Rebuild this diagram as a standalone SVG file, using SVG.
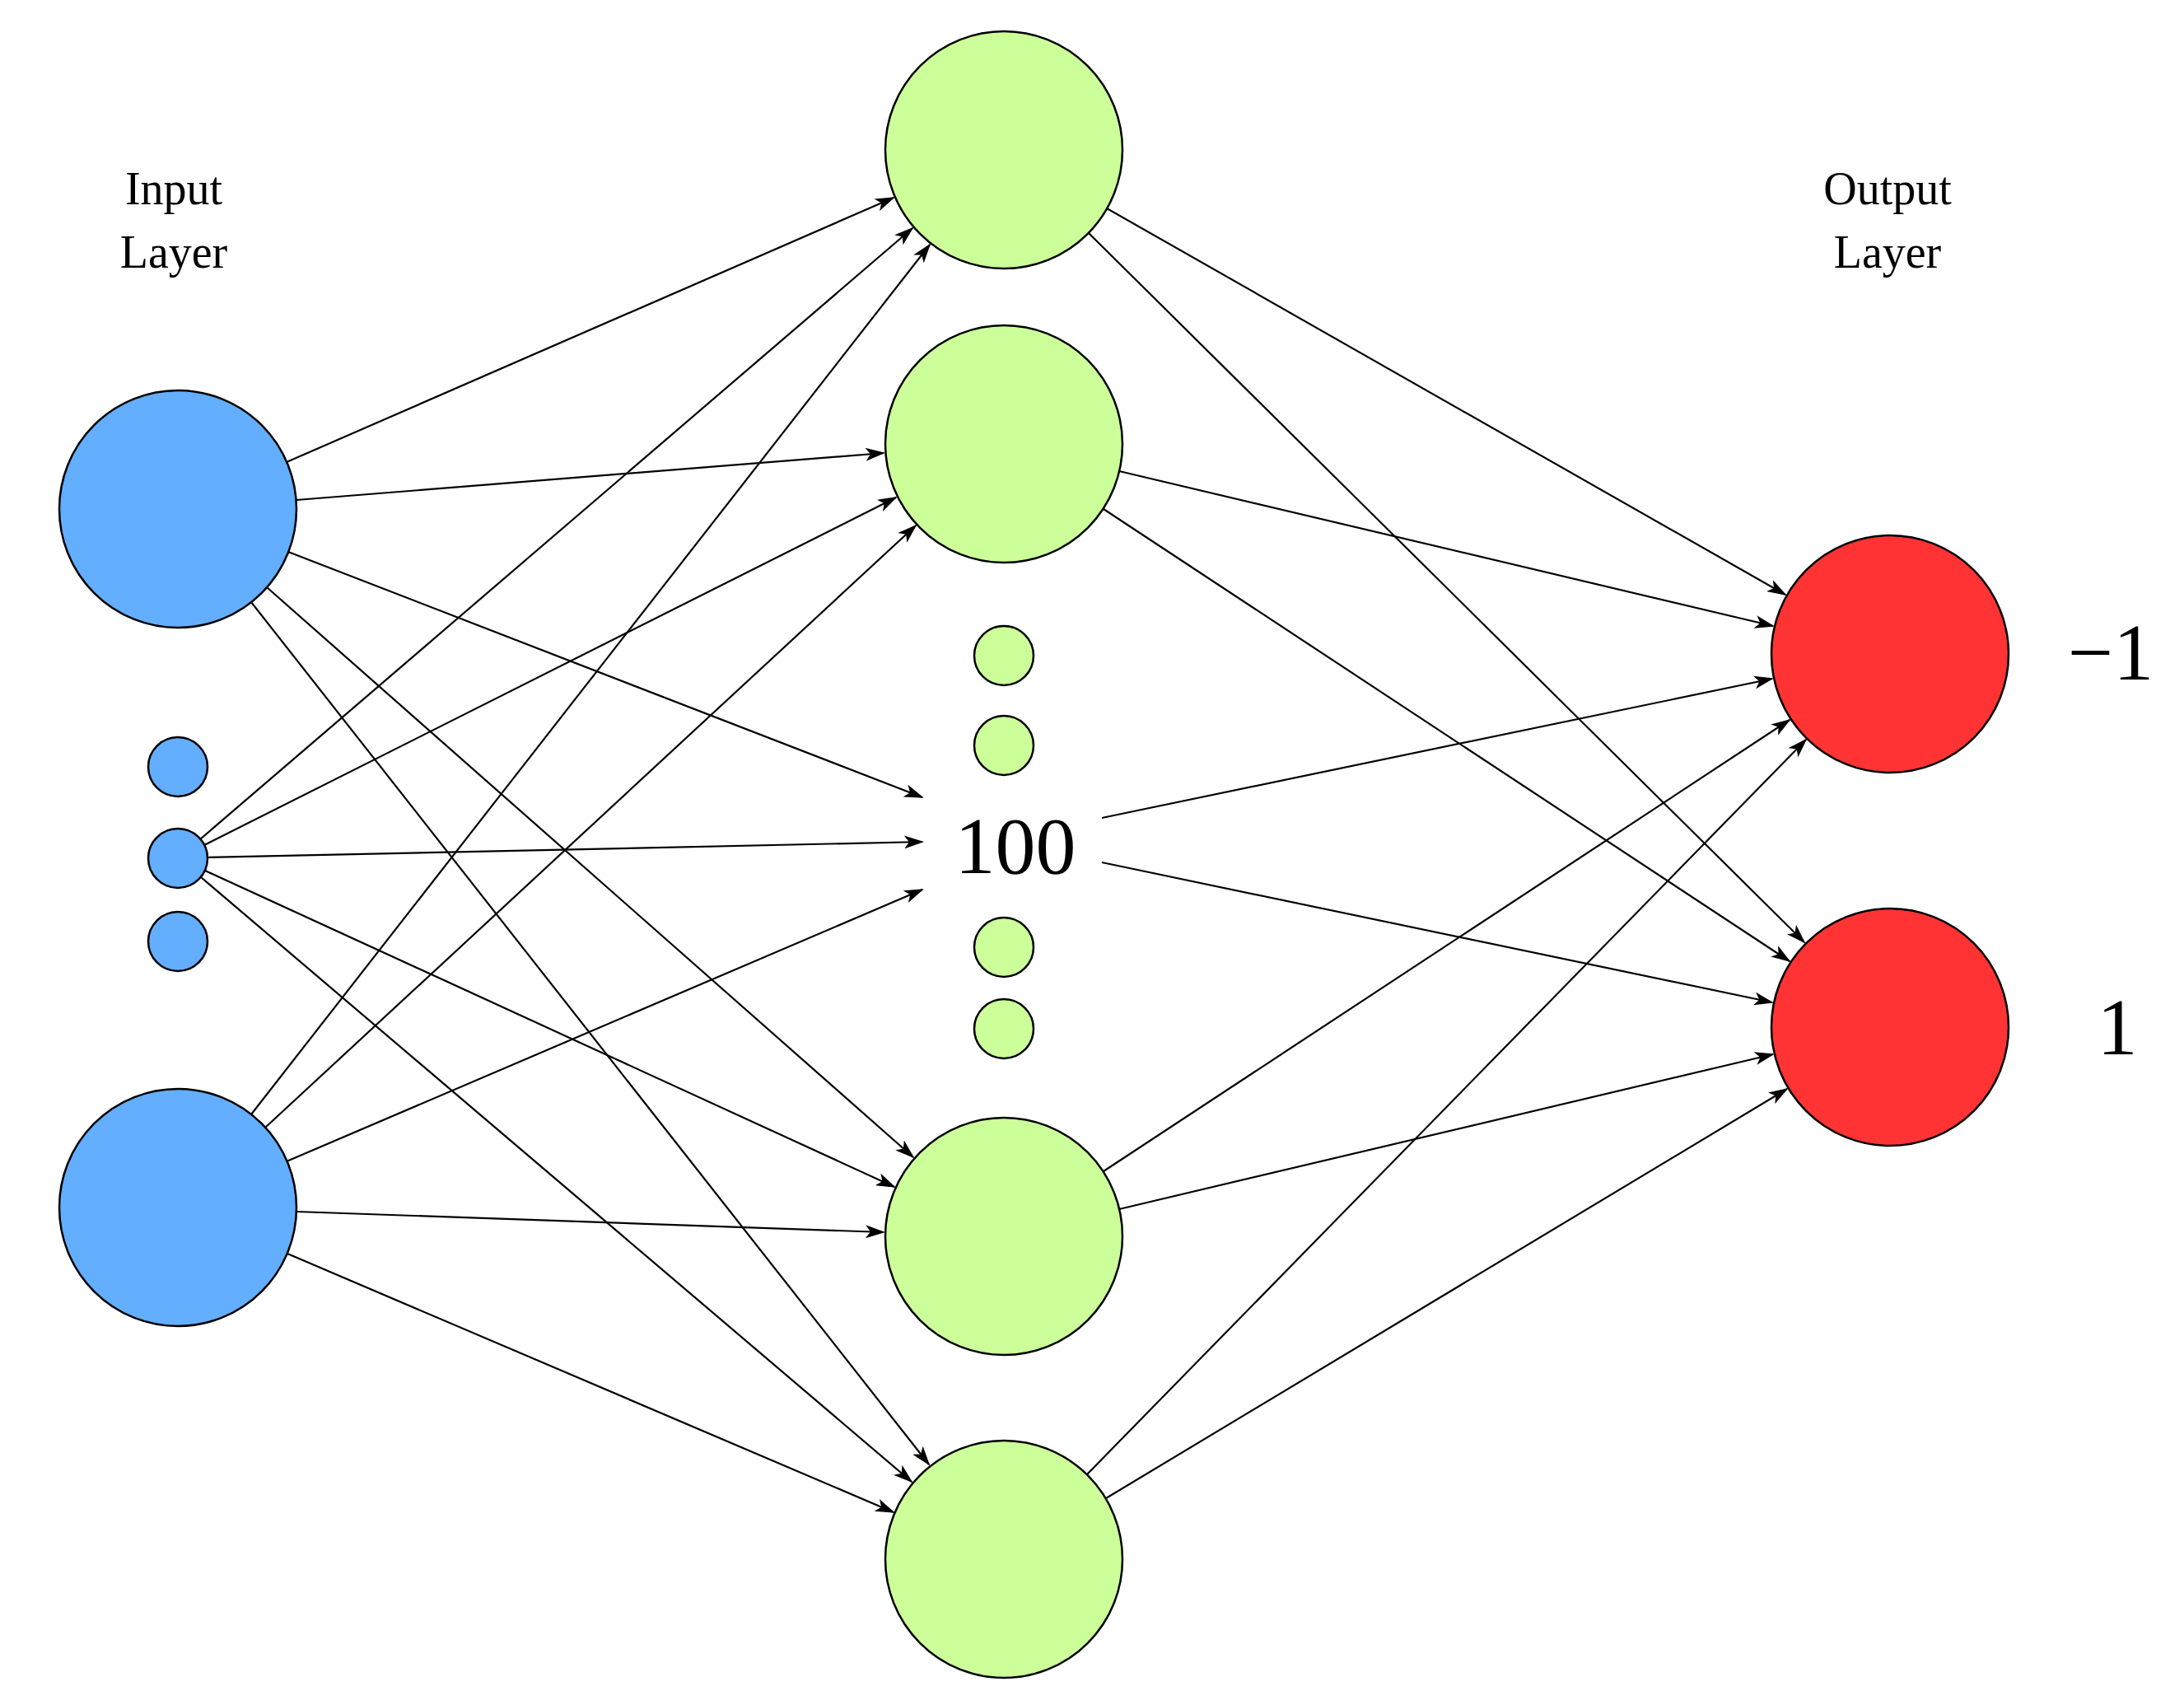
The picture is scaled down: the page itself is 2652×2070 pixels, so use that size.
<svg xmlns="http://www.w3.org/2000/svg" width="2652" height="2070" viewBox="0 0 2652 2070">
<style>
.c{stroke:#000;stroke-width:2.5}
.in{fill:#63aefe}.hid{fill:#ccff99}.out{fill:#ff3333}
.e{stroke:#000;stroke-width:2.2;fill:none;marker-end:url(#a)}
.t{font-family:"Liberation Serif",serif;fill:#000;text-anchor:middle}
</style>
<defs><marker id="a" viewBox="0 0 24 16" refX="22" refY="8" markerWidth="24" markerHeight="16" markerUnits="userSpaceOnUse" orient="auto"><path d="M0,0 L24,8 L0,16 L6,8 Z" fill="#000"/></marker></defs>
<rect width="2652" height="2070" fill="#fff"/>
<g id="connectors">
<line class="e" x1="348" y1="561" x2="1085" y2="240"/>
<line class="e" x1="360" y1="607" x2="1073" y2="550"/>
<line class="e" x1="350" y1="670" x2="1120" y2="968"/>
<line class="e" x1="324" y1="713" x2="1109" y2="1405"/>
<line class="e" x1="305" y1="731" x2="1128" y2="1778"/>
<line class="e" x1="243" y1="1019" x2="1108" y2="277"/>
<line class="e" x1="248" y1="1026" x2="1088" y2="604"/>
<line class="e" x1="252" y1="1041" x2="1120" y2="1022"/>
<line class="e" x1="249" y1="1057" x2="1086" y2="1441"/>
<line class="e" x1="244" y1="1065" x2="1107" y2="1799"/>
<line class="e" x1="305" y1="1353" x2="1129" y2="297"/>
<line class="e" x1="322" y1="1369" x2="1112" y2="638"/>
<line class="e" x1="348" y1="1410" x2="1120" y2="1080"/>
<line class="e" x1="360" y1="1471" x2="1073" y2="1496"/>
<line class="e" x1="349" y1="1522" x2="1085" y2="1836"/>
<line class="e" x1="1344" y1="253" x2="2168" y2="722"/>
<line class="e" x1="1322" y1="283" x2="2191" y2="1144"/>
<line class="e" x1="1359" y1="572" x2="2153" y2="760"/>
<line class="e" x1="1340" y1="618" x2="2173" y2="1167"/>
<line class="e" x1="1338" y1="993" x2="2152" y2="824"/>
<line class="e" x1="1338" y1="1047" x2="2152" y2="1217"/>
<line class="e" x1="1340" y1="1422" x2="2173" y2="874"/>
<line class="e" x1="1359" y1="1468" x2="2153" y2="1280"/>
<line class="e" x1="1320" y1="1790" x2="2193" y2="898"/>
<line class="e" x1="1343" y1="1819" x2="2170" y2="1322"/>
</g>
<g id="input1"><circle class="c in" cx="216" cy="618" r="144"/></g>
<g id="input-dots"><circle class="c in" cx="216" cy="931" r="36"/><circle class="c in" cx="216" cy="1042" r="36"/><circle class="c in" cx="216" cy="1143" r="36"/></g>
<g id="input2"><circle class="c in" cx="216" cy="1466" r="144"/></g>
<g id="hidden1"><circle class="c hid" cx="1219" cy="182" r="144"/></g>
<g id="hidden2"><circle class="c hid" cx="1219" cy="539" r="144"/></g>
<g id="hidden-dots"><circle class="c hid" cx="1219" cy="796" r="36"/><circle class="c hid" cx="1219" cy="905" r="36"/><circle class="c hid" cx="1219" cy="1150" r="36"/><circle class="c hid" cx="1219" cy="1249" r="36"/></g>
<g id="hidden-count"><text class="t" x="1233" y="1060" font-size="98">100</text></g>
<g id="hidden3"><circle class="c hid" cx="1219" cy="1501" r="144"/></g>
<g id="hidden4"><circle class="c hid" cx="1219" cy="1893" r="144"/></g>
<g id="output1"><circle class="c out" cx="2295" cy="794" r="144"/></g>
<g id="output2"><circle class="c out" cx="2295" cy="1247" r="144"/></g>
<g id="labels">
<text class="t" x="211" y="248" font-size="56">Input</text>
<text class="t" x="211" y="325" font-size="56">Layer</text>
<text class="t" x="2292" y="248" font-size="56">Output</text>
<text class="t" x="2292" y="325" font-size="56">Layer</text>
<text class="t" x="2563" y="825" font-size="98">−1</text>
<text class="t" x="2571" y="1280" font-size="98">1</text>
</g>
</svg>
